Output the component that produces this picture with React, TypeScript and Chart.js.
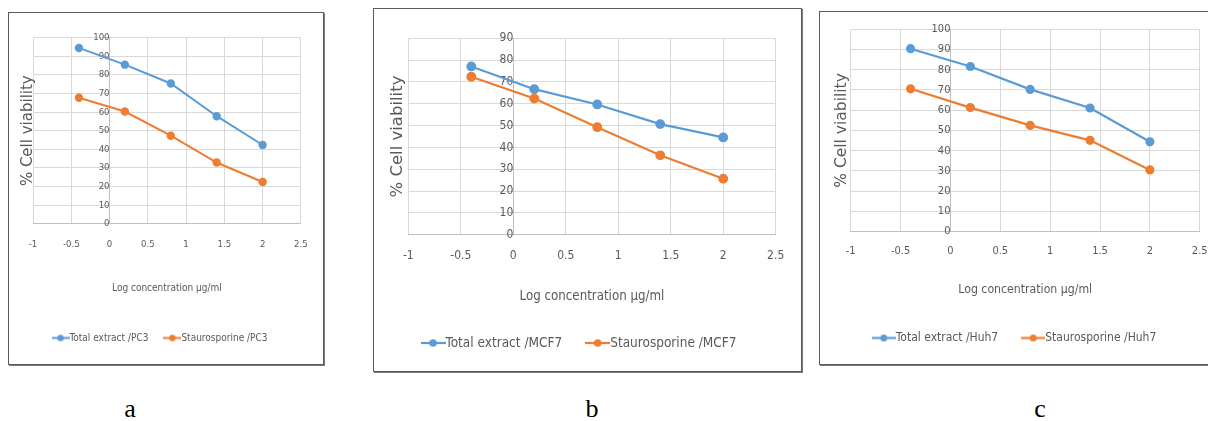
import React, { useEffect, useRef } from "react";
import { Chart, registerables } from "chart.js";

Chart.register(...registerables);

// ---------------- data ----------------
const logConcentration = [-0.4, 0.2, 0.8, 1.4, 2];

const pc3Extract = [94.5, 85.5, 75.4, 57.8, 42.3];
const pc3Staurosporine = [67.7, 60.3, 47.3, 32.9, 22.4];

const mcf7Extract = [77.1, 66.7, 59.7, 50.7, 44.6];
const mcf7Staurosporine = [72.4, 62.4, 49.3, 36.4, 25.7];

const huh7Extract = [90.4, 81.6, 70.3, 61.1, 44.4];
const huh7Staurosporine = [70.6, 61.3, 52.5, 45.1, 30.5];

const seriesLabelsPC3 = ["Total extract /PC3", "Staurosporine /PC3"];
const seriesLabelsMCF7 = ["Total extract /MCF7", "Staurosporine /MCF7"];
const seriesLabelsHuh7 = ["Total extract /Huh7", "Staurosporine /Huh7"];

const xAxisTitle = "Log concentration µg/ml";
const yAxisTitle = "% Cell viability";
const panelLetters = ["a", "b", "c"];

const xMin = -1;
const xMax = 2.5;
const xStep = 0.5;
const yStep = 10;

// ---------------- styles ----------------
const BLUE = "#5B9BD5";
const ORANGE = "#ED7D31";
const GRID = "#D9D9D9";
const AXIS = "#BFBFBF";
const TEXT = "#595959";
const NARROW = "'Liberation Sans Narrow', 'DejaVu Sans Condensed', 'Liberation Sans', sans-serif";
const WIDE = "'DejaVu Sans', Verdana, sans-serif";

Chart.defaults.font.family = NARROW;

type Panel = {
  box: { left: number; top: number; width: number; height: number };
  plot: { left: number; right: number; top: number; bottom: number };
  tickCenterY: number;
  xTitleCenterY: number;
  legendCenterY: number;
  yTitleCenterX: number;
  yMax: number;
  fonts: { tick: number; xTitle: number; yTitle: number; legend: number };
  y2TickPad: number;
  legendLine: number;
  legendGap: number;
  pointRadius: number;
  lineWidth: number;
  labels: string[];
  extract: number[];
  stauro: number[];
  letterX: number;
};

const panels: Panel[] = [
  {
    box: { left: 8, top: 12, width: 316, height: 353 },
    plot: { left: 24, right: 296, top: 24.7, bottom: 226 },
    tickCenterY: 247,
    xTitleCenterY: 275,
    legendCenterY: 325,
    yTitleCenterX: 19,
    yMax: 100,
    fonts: { tick: 9.5, xTitle: 10, yTitle: 15, legend: 10 },
    y2TickPad: 2,
    legendLine: 18,
    legendGap: 15,
    pointRadius: 3.2,
    lineWidth: 2,
    labels: seriesLabelsPC3,
    extract: pc3Extract,
    stauro: pc3Staurosporine,
    letterX: 130,
  },
  {
    box: { left: 373, top: 8, width: 429, height: 364 },
    plot: { left: 34.3, right: 401.7, top: 29.3, bottom: 239.3 },
    tickCenterY: 260,
    xTitleCenterY: 288,
    legendCenterY: 334,
    yTitleCenterX: 24,
    yMax: 90,
    fonts: { tick: 12, xTitle: 13.2, yTitle: 16.5, legend: 13.5 },
    y2TickPad: 4,
    legendLine: 25,
    legendGap: 23,
    pointRadius: 3.8,
    lineWidth: 2.2,
    labels: seriesLabelsMCF7,
    extract: mcf7Extract,
    stauro: mcf7Staurosporine,
    letterX: 592,
  },
  {
    box: { left: 819, top: 11, width: 403, height: 354 },
    plot: { left: 30.7, right: 381.7, top: 17.3, bottom: 233 },
    tickCenterY: 253,
    xTitleCenterY: 278,
    legendCenterY: 326,
    yTitleCenterX: 21.7,
    yMax: 100,
    fonts: { tick: 11, xTitle: 12.2, yTitle: 15.5, legend: 12 },
    y2TickPad: 3,
    legendLine: 24,
    legendGap: 23,
    pointRadius: 3.5,
    lineWidth: 2.2,
    labels: seriesLabelsHuh7,
    extract: huh7Extract,
    stauro: huh7Staurosporine,
    letterX: 1040,
  },
];

function makeLegendIcon(color: string, width: number, radius: number, lw: number) {
  const c = document.createElement("canvas");
  const h = Math.ceil(radius * 2 + 2);
  c.width = Math.round(width);
  c.height = h;
  const ctx = c.getContext("2d")!;
  ctx.strokeStyle = color;
  ctx.lineWidth = lw;
  ctx.beginPath();
  ctx.moveTo(0, h / 2);
  ctx.lineTo(c.width, h / 2);
  ctx.stroke();
  ctx.fillStyle = color;
  ctx.beginPath();
  ctx.arc(c.width / 2, h / 2, radius, 0, Math.PI * 2);
  ctx.fill();
  return c;
}

const tickText = (v: any) => String(Math.round(Number(v) * 100) / 100);

function ChartPanel({ p }: { p: Panel }) {
  const ref = useRef<HTMLCanvasElement | null>(null);
  const W = p.box.width - 2;
  const H = p.box.height - 2;

  useEffect(() => {
    if (!ref.current) return;
    const { fonts, plot } = p;
    const lhT = fonts.tick * 1.2;
    const lhX = fonts.xTitle * 1.2;
    const lhY = fonts.yTitle * 1.2;
    const legendPadding = p.legendGap + fonts.legend / 2;
    const padBottom = H - p.legendCenterY - fonts.legend / 2 - 10;
    const legendTop = H - padBottom - (fonts.legend + legendPadding + 10);
    const tickPad = p.tickCenterY - plot.bottom - lhT / 2;
    const xtPb = legendTop - p.xTitleCenterY - lhX / 2;
    const xtPt = legendTop - plot.bottom - lhT - tickPad - lhX - xtPb;
    const padLeft = p.yTitleCenterX - lhY / 2;
    const ytPb = plot.left - padLeft - lhY;
    const boxW = p.legendLine - fonts.legend;

    const icons = [
      makeLegendIcon(BLUE, p.legendLine, p.pointRadius, p.lineWidth),
      makeLegendIcon(ORANGE, p.legendLine, p.pointRadius, p.lineWidth),
    ];

    const mk = (vals: number[]) => logConcentration.map((x, i) => ({ x, y: vals[i] }));

    const chart = new Chart(ref.current, {
      type: "line",
      data: {
        datasets: [
          {
            label: p.labels[0],
            data: mk(p.extract),
            borderColor: BLUE,
            backgroundColor: BLUE,
            pointBackgroundColor: BLUE,
            pointBorderColor: BLUE,
            borderWidth: p.lineWidth,
            pointRadius: p.pointRadius,
            tension: 0,
            yAxisID: "y",
          },
          {
            label: p.labels[1],
            data: mk(p.stauro),
            borderColor: ORANGE,
            backgroundColor: ORANGE,
            pointBackgroundColor: ORANGE,
            pointBorderColor: ORANGE,
            borderWidth: p.lineWidth,
            pointRadius: p.pointRadius,
            tension: 0,
            yAxisID: "y",
          },
        ],
      },
      options: {
        responsive: false,
        devicePixelRatio: 1,
        animation: false,
        layout: {
          padding: {
            left: padLeft,
            right: W - plot.right,
            top: plot.top,
            bottom: padBottom,
          },
        },
        plugins: {
          tooltip: { enabled: false },
          legend: {
            display: true,
            position: "bottom",
            labels: {
              usePointStyle: true,
              pointStyleWidth: boxW,
              padding: legendPadding,
              color: TEXT,
              font: { size: fonts.legend, family: NARROW },
              generateLabels: (ch: any) => {
                const items = (Chart.defaults.plugins.legend.labels as any).generateLabels(ch);
                return items.map((it: any, i: number) => ({ ...it, pointStyle: icons[i] }));
              },
            },
          },
        },
        scales: {
          x: {
            type: "linear",
            position: "bottom",
            min: xMin,
            max: xMax,
            ticks: {
              stepSize: xStep,
              padding: tickPad,
              color: TEXT,
              font: { size: fonts.tick },
              autoSkip: false,
              maxRotation: 0,
              callback: tickText,
            },
            grid: { color: GRID, drawTicks: false, lineWidth: 1 },
            border: { display: true, color: AXIS },
            title: {
              display: true,
              text: xAxisTitle,
              color: TEXT,
              font: { size: fonts.xTitle, family: NARROW },
              padding: { top: xtPt, bottom: xtPb },
            },
          },
          y: {
            type: "linear",
            position: "left",
            min: 0,
            max: p.yMax,
            ticks: { display: false, stepSize: yStep },
            grid: { color: GRID, drawTicks: false, lineWidth: 1 },
            border: { display: false },
            title: {
              display: true,
              text: yAxisTitle,
              color: TEXT,
              font: { size: fonts.yTitle, family: WIDE },
              padding: { top: 0, bottom: ytPb },
            },
          },
          y2: {
            axis: "y",
            type: "linear",
            position: { x: 0 },
            min: 0,
            max: p.yMax,
            ticks: {
              stepSize: yStep,
              padding: p.y2TickPad,
              color: TEXT,
              font: { size: fonts.tick },
              callback: tickText,
            },
            grid: {
              display: true,
              drawOnChartArea: false,
              drawTicks: true,
              tickLength: 4,
              color: AXIS,
            },
            border: { display: true, color: AXIS },
          },
        } as any,
      },
    });
    return () => chart.destroy();
  }, [p, W, H]);

  return (
    <div
      style={{
        position: "absolute",
        left: p.box.left,
        top: p.box.top,
        width: p.box.width,
        height: p.box.height,
        boxSizing: "border-box",
        border: "1px solid #5a5a5a",
        boxShadow: "1px 1px 0 #7a7a7a",
        background: "#fff",
      }}
    >
      <canvas ref={ref} width={W} height={H} style={{ display: "block", width: W, height: H }} />
    </div>
  );
}

export default function App() {
  return (
    <div
      style={{
        position: "fixed",
        left: 0,
        top: 0,
        width: 1208,
        height: 421,
        overflow: "hidden",
        background: "#fff",
      }}
    >
      {panels.map((p, i) => (
        <React.Fragment key={i}>
          <ChartPanel p={p} />
          <div
            style={{
              position: "absolute",
              left: p.letterX - 20,
              top: 396,
              width: 40,
              textAlign: "center",
              fontFamily: "'Liberation Serif', 'Times New Roman', serif",
              fontSize: 26,
              lineHeight: "26px",
              color: "#000",
            }}
          >
            {panelLetters[i]}
          </div>
        </React.Fragment>
      ))}
    </div>
  );
}
